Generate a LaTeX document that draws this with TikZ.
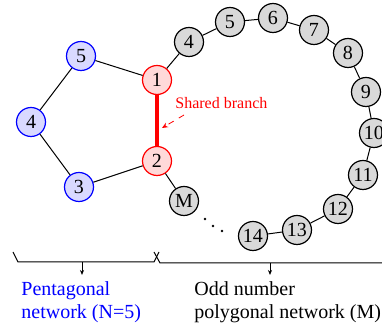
\documentclass[tikz,border=0pt]{standalone}
\usepackage{fontspec}
\setmainfont{Liberation Serif}
\usetikzlibrary{arrows.meta}
\begin{document}
\begin{tikzpicture}[x=0.5pt,y=-0.5pt,
  bus/.style={circle,draw,line width=0.6pt,minimum size=14.5pt,inner sep=0pt,
    font=\fontsize{10}{12}\selectfont},
  pent/.style={bus,draw=blue,fill=blue!15},
  shared/.style={bus,draw=red,fill=red!15},
  ring/.style={bus,draw=black,fill=black!15},
  link/.style={line width=0.5pt},
  tie/.style={line width=1.6pt,red},
  pointer/.style={red,dashed,line width=0.4pt,-{Stealth[length=3pt,width=2.5pt]}},
  brace/.style={line width=0.5pt},
  down/.style={line width=0.4pt,-{Stealth[length=2.5pt,width=2pt]}},
  caption/.style={align=left,anchor=north west,inner sep=0pt,
    font=\fontsize{10}{11.6}\selectfont}
]
\useasboundingbox (0,0) rectangle (382,331);

% pentagonal network
\node[pent]   (p5) at (81,56)  {5};
\node[shared] (p1) at (157,80) {1};
\node[pent]   (p4) at (31,122) {4};
\node[shared] (p2) at (157,161) {2};
\node[pent]   (p3) at (79,187) {3};

% odd polygonal ring
\node[ring] (r4)  at (189,42)  {4};
\node[ring] (r5)  at (230,22)  {5};
\node[ring] (r6)  at (273,18)  {6};
\node[ring] (r7)  at (314,30)  {7};
\node[ring] (r8)  at (348,53)  {8};
\node[ring] (r9)  at (366,92)  {9};
\node[ring] (r10) at (374,133) {10};
\node[ring] (r11) at (363,175) {11};
\node[ring] (r12) at (338,209) {12};
\node[ring] (r13) at (297,230) {13};
\node[ring] (r14) at (253,236) {14};
\node[ring] (rM)  at (184,201) {M};

% branches
\draw[link] (p1) -- (p5) (p5) -- (p4) (p4) -- (p3) (p3) -- (p2);
\draw[tie] (p1) -- (p2);
\draw[link] (p1) -- (r4) (r4) -- (r5) (r5) -- (r6) (r6) -- (r7) (r7) -- (r8)
  (r8) -- (r9) (r9) -- (r10) (r10) -- (r11) (r11) -- (r12) (r12) -- (r13)
  (r13) -- (r14) (p2) -- (rM);

% omitted buses
\fill (205,219) circle (1.4) (213,226) circle (1.4) (222,231) circle (1.4);

% shared branch label
\node[red,font=\fontsize{8}{9}\selectfont,anchor=base west,inner sep=0pt]
  (lbl) at (175,109) {Shared branch};
\coordinate (ptail) at (184,115);
\coordinate (phead) at (162,128);
\draw[pointer] (ptail) -- (phead);

% brackets under the two networks
\coordinate (bl0) at (13,252);
\coordinate (bl1) at (18,262);
\coordinate (bl2) at (154,262);
\coordinate (bl3) at (159,252);
\coordinate (br0) at (154,252);
\coordinate (br1) at (160,263);
\coordinate (br2) at (390,263);
\draw[brace] (bl0) -- (bl1) -- (bl2) -- (bl3);
\draw[brace] (br0) -- (br1) -- (br2);

\coordinate (dl0) at (82,262);  \coordinate (dl1) at (82,275);
\coordinate (dr0) at (270,263); \coordinate (dr1) at (270,275);
\draw[down] (dl0) -- (dl1);
\draw[down] (dr0) -- (dr1);

\node[caption,blue] (cap1) at (21,281) {Pentagonal\\network (N=5)};
\node[caption] (cap2) at (194,281) {Odd number\\polygonal network (M)};
\end{tikzpicture}
\end{document}
